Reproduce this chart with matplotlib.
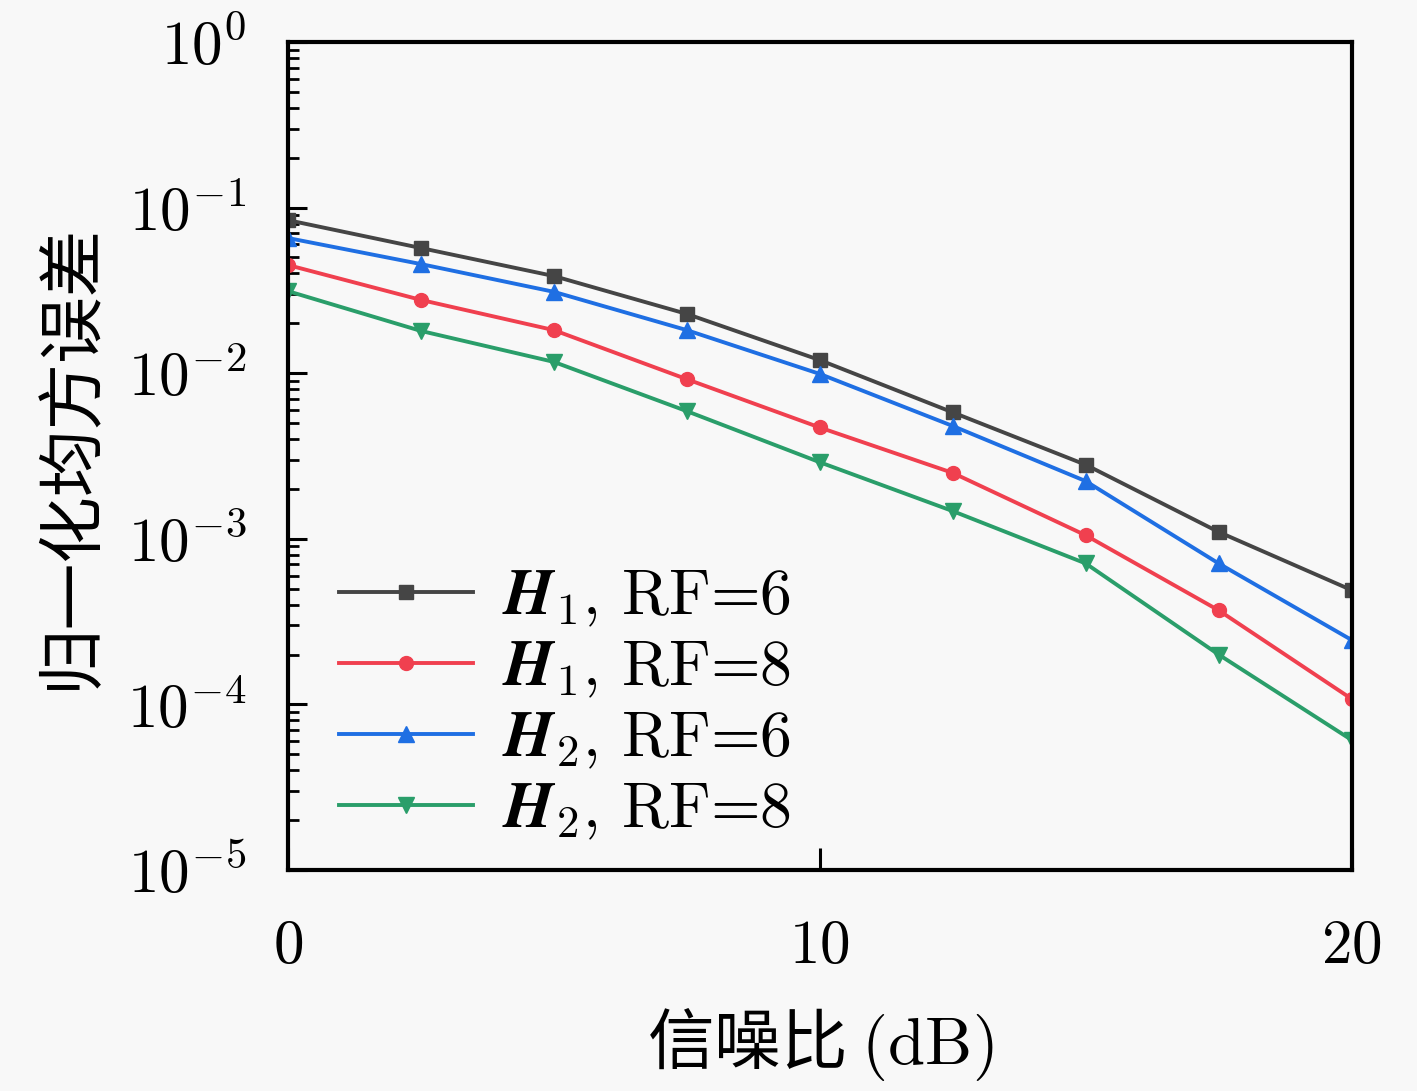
import matplotlib
matplotlib.use('Agg')
import matplotlib.pyplot as plt
import numpy as np

plt.rcParams['mathtext.fontset'] = 'cm'
plt.rcParams['font.family'] = ['cmr10', 'Noto Sans CJK SC']
plt.rcParams['axes.unicode_minus'] = False

snr = [0, 2.5, 5, 7.5, 10, 12.5, 15, 17.5, 20]
h1_rf6 = [0.084, 0.057, 0.0386, 0.0228, 0.012, 0.0058, 0.0028, 0.0011, 0.00049]
h1_rf8 = [0.045, 0.0277, 0.0182, 0.0092, 0.0047, 0.0025, 0.00105, 0.00037, 0.000108]
h2_rf6 = [0.0655, 0.0456, 0.031, 0.0182, 0.0099, 0.0048, 0.00223, 0.00071, 0.000245]
h2_rf8 = [0.0313, 0.018, 0.0117, 0.0059, 0.0029, 0.00147, 0.00071, 0.0002, 0.000061]

labels = [r'$\mathbfit{H}_1$, RF=6', r'$\mathbfit{H}_1$, RF=8',
          r'$\mathbfit{H}_2$, RF=6', r'$\mathbfit{H}_2$, RF=8']

fig = plt.figure(figsize=(14.17, 10.91), dpi=100)
fig.patch.set_facecolor('#f8f8f8')
ax = fig.add_axes([0.2032, 0.2026, 0.7506, 0.7589])
ax.set_facecolor('#f8f8f8')

ax.semilogy(snr, h1_rf6, color='#454545', marker='s', ms=10, lw=2.8, label=labels[0])
ax.semilogy(snr, h1_rf8, color='#f0404f', marker='o', ms=10, lw=2.8, label=labels[1])
ax.semilogy(snr, h2_rf6, color='#1f6fe3', marker='^', ms=12, lw=2.8, label=labels[2])
ax.semilogy(snr, h2_rf8, color='#2a9e6a', marker='v', ms=12, lw=2.8, label=labels[3])

ax.set_xlim(0, 20)
ax.set_ylim(1e-5, 1)
ax.set_xticks([0, 10, 20])
ax.set_xticklabels(['$0$', '$10$', '$20$'])
ax.tick_params(axis='both', which='major', direction='in', labelsize=44, width=2.2, top=False, right=False)
ax.tick_params(axis='y', which='major', length=14, pad=30)
ax.tick_params(axis='x', which='major', length=16, pad=36)
ax.tick_params(axis='y', which='minor', direction='in', length=8, width=2)
ax.tick_params(axis='x', which='minor', bottom=False)
for s in ax.spines.values():
    s.set_linewidth(3)

ax.set_xlabel('信噪比 $\\mathrm{(dB)}$', fontsize=48, family=['Noto Sans CJK SC'], labelpad=22)
ax.set_ylabel('归一化均方误差', fontsize=48, family=['Noto Sans CJK SC'], labelpad=16)

ax.legend(loc='lower left', fontsize=46, frameon=False, handlelength=2.1, labelspacing=0.17,
          borderaxespad=0.6, handletextpad=0.45, bbox_to_anchor=(-0.012, -0.043))

fig.savefig('out.png', dpi=100, facecolor=fig.get_facecolor())
